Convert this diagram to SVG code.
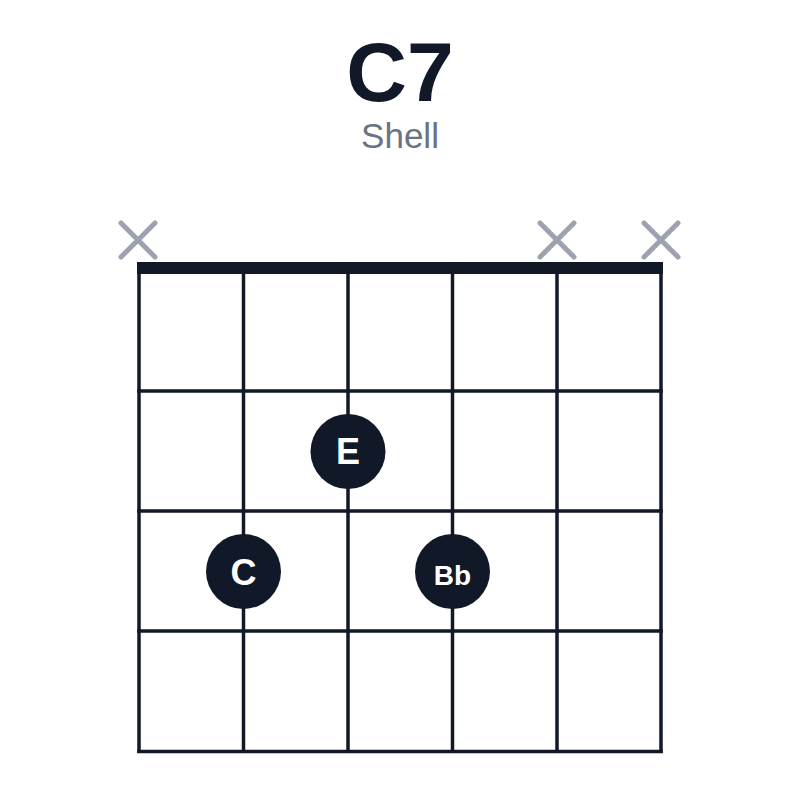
<svg xmlns="http://www.w3.org/2000/svg" width="800" height="800" viewBox="0 0 800 800">
<style>
.bg{fill:#ffffff}
.title{font-family:"Liberation Sans",Arial,sans-serif;font-weight:bold;font-size:84px;fill:#111827;text-anchor:middle}
.sub{font-family:"Liberation Sans",Arial,sans-serif;font-size:35px;fill:#6b7280;text-anchor:middle}
.str{stroke:#111827;stroke-width:3.5;fill:none}
.fret{stroke:#111827;stroke-width:3.5;fill:none}
.nut{fill:#111827}
.mute{stroke:#9ca3af;stroke-width:5;stroke-linecap:round;fill:none}
.dot{fill:#111827}
.lbl{font-family:"Liberation Sans",Arial,sans-serif;font-weight:bold;fill:#ffffff;text-anchor:middle}
</style>
<rect class="bg" x="0" y="0" width="800" height="800"/>
<g id="title">
<text class="title" x="400" y="101">C7</text>
<text class="sub" x="400" y="148">Shell</text>
</g>
<g id="grid">
<rect class="nut" x="137" y="262" width="526" height="12"/>
<line class="str" x1="139" y1="268" x2="139" y2="753"/>
<line class="str" x1="243.5" y1="268" x2="243.5" y2="753"/>
<line class="str" x1="348" y1="268" x2="348" y2="753"/>
<line class="str" x1="452.5" y1="268" x2="452.5" y2="753"/>
<line class="str" x1="557" y1="268" x2="557" y2="753"/>
<line class="str" x1="661" y1="268" x2="661" y2="753"/>
<line class="fret" x1="137.25" y1="391" x2="662.75" y2="391"/>
<line class="fret" x1="137.25" y1="511" x2="662.75" y2="511"/>
<line class="fret" x1="137.25" y1="631" x2="662.75" y2="631"/>
<line class="fret" x1="137.25" y1="751.5" x2="662.75" y2="751.5"/>
</g>
<g id="mute-1">
<path class="mute" d="M121 223 L155 257 M155 223 L121 257"/>
</g>
<g id="mute-5">
<path class="mute" d="M540 223 L574 257 M574 223 L540 257"/>
</g>
<g id="mute-6">
<path class="mute" d="M644 223 L678 257 M678 223 L644 257"/>
</g>
<g id="note-E">
<circle class="dot" cx="348" cy="451.5" r="37.5"/>
<text class="lbl" x="348" y="464.3" font-size="36">E</text>
</g>
<g id="note-C">
<circle class="dot" cx="243.5" cy="571.5" r="37.5"/>
<text class="lbl" x="243.5" y="584.5" font-size="36">C</text>
</g>
<g id="note-Bb">
<circle class="dot" cx="452.5" cy="571.5" r="37.5"/>
<text class="lbl" x="452.5" y="584.5" font-size="28">Bb</text>
</g>
</svg>
